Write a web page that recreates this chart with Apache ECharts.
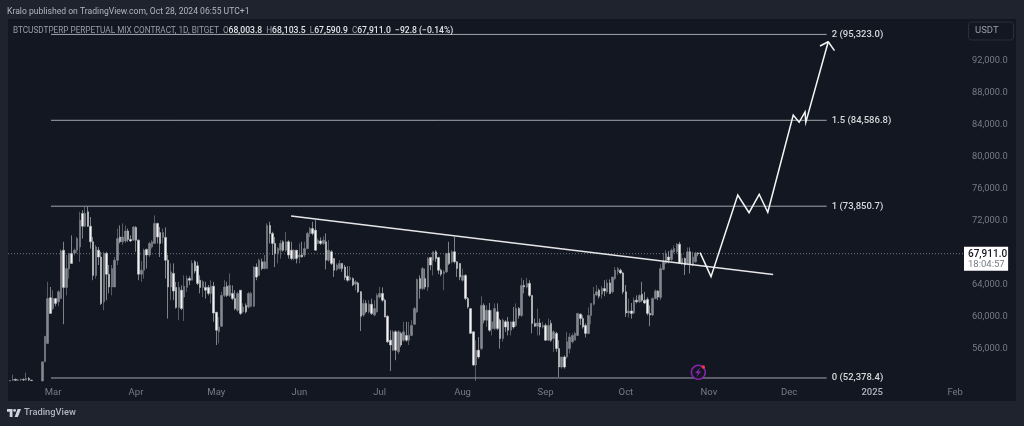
<!DOCTYPE html>
<html><head><meta charset="utf-8">
<style>html,body{margin:0;padding:0;background:#1f232e}#c{width:1024px;height:426px}</style>
<script src="https://cdn.jsdelivr.net/npm/echarts@6/dist/echarts.min.js"></script>
</head><body><div id="c"></div>
<script>
const firstCandleDay = '2024-02-14T00:00Z';
// daily candles in thousands of USDT: [open, close, low, high]; null = no candle that day
const candles = [
[52.0,52.05,52.0,52.1],[52.1,52.2,52.0,52.8],[52.2,52.1,52.0,52.3],[52.1,52.15,52.0,52.2],[52.15,52.2,52.0,52.3],[52.2,52.15,52.0,52.3],[52.15,52.3,52.0,53.05],[52.3,52.15,52.0,52.5],[52.1,52.05,52.0,52.15],
null,null,null,
[52.0,54.4,52.0,54.4],[54.4,57.6,54.4,57.6],[56.7,62.3,56.7,64.4],[62.4,60.45,60.45,63.75],[61.05,62.3,60.85,63.35],[62.3,61.7,61.35,62.3],[61.9,63.15,61.35,63.35],[62.3,68.25,62.3,68.45],[68.35,63.7,59.1,69.4],[63.7,66.05,62.7,67.75],
[66.0,67.95,64.8,67.95],[67.95,66.7,66.7,70.2],[68.0,68.35,67.7,68.55],[68.35,69.8,67.95,70.0],[68.75,72.1,66.9,73.15],[72.95,71.35,69.8,73.35],[71.35,72.95,71.25,73.8],[73.15,71.35,71.25,73.8],[71.35,69.4,68.55,72.5],[69.4,65.2,64.6,70.0],
[65.2,68.75,64.8,69.0],[68.35,67.5,66.5,68.75],[67.5,61.7,61.5,68.15],[61.9,67.95,60.85,68.15],[67.95,65.35,62.1,68.15],[65.35,63.75,62.95,66.5],[63.75,66.05,62.7,66.5],[63.75,67.1,63.75,67.5],[67.1,69.8,66.5,71.05],[70.0,69.4,69.2,71.45],
[69.4,70.0,69.0,71.7],[69.5,70.75,69.25,71.45],[70.75,69.7,69.4,71.05],[69.7,69.5,69.4,70.2],[69.6,71.25,69.6,71.35],[71.2,69.6,68.15,71.35],[69.6,65.35,64.6,69.7],[65.35,65.85,64.4,67.0],[65.85,68.35,64.8,68.55],[68.45,67.75,66.05,68.55],
[67.75,69.2,67.5,69.4],[68.75,69.4,68.55,69.6],[69.2,71.7,69.2,72.7],[71.7,70.0,69.2,71.8],[70.55,69.2,67.5,71.25],[69.95,70.55,69.2,71.05],[69.95,67.1,64.8,71.2],[67.1,63.75,59.8,67.75],[63.75,65.65,62.1,66.7],[65.45,63.25,62.1,66.7],
[63.7,61.2,61.05,64.4],[61.2,63.7,59.6,64.4],[63.35,61.05,60.85,63.95],[62.5,63.85,59.5,65.2],[63.7,64.8,63.15,65.2],[64.8,64.6,64.0,65.1],[64.6,66.7,64.6,67.1],[66.9,65.75,65.45,67.1],[66.4,64.2,64.0,66.9],[64.6,63.7,62.95,65.2],
[63.7,64.4,62.5,64.6],[63.7,63.35,62.3,64.4],[63.7,62.95,62.7,64.0],[62.95,63.85,61.7,64.6],[63.85,60.5,59.4,64.4],[60.6,58.35,56.5,60.6],[58.15,58.75,56.7,60.0],[58.85,62.7,58.75,63.15],[62.7,63.75,62.5,64.6],[63.85,62.7,62.5,64.4],
[62.7,63.95,62.5,65.45],[62.95,62.3,62.1,63.95],[62.3,61.05,60.85,63.35],[60.85,62.95,60.65,63.15],
[63.35,60.45,60.25,63.35],[60.65,61.25,60.45,61.7],[61.45,60.65,60.45,61.7],[61.25,62.95,61.05,63.15],[61.35,62.95,61.2,63.15],[61.35,66.25,61.25,66.35],[66.25,65.0,64.6,66.7],[65.2,67.1,65.2,67.3],[66.9,66.05,65.85,67.3],[66.05,66.9,65.95,67.75],
[66.05,71.45,66.05,71.7],[71.45,70.45,69.2,71.9],[70.45,69.2,67.75,70.65],[69.2,67.95,66.25,70.0],[67.95,68.55,66.7,68.75],[68.35,69.2,67.3,69.6],[69.4,68.35,68.15,69.6],[68.35,69.4,68.15,70.65],[69.4,67.75,67.3,69.6],[68.35,67.3,67.1,69.4],
[67.3,68.35,67.1,68.45],[68.35,67.3,66.7,68.35],[67.5,67.75,66.7,69.2],[67.75,67.5,67.45,69.4],[67.75,68.55,67.5,69.4],[68.55,70.45,68.45,70.65],[70.45,71.05,70.0,71.25],[71.05,70.45,70.2,71.9],[70.85,68.35,68.35,72.1],[69.2,69.6,69.1,69.8],
[69.5,69.2,69.0,69.95],[69.2,69.6,69.0,70.1],[69.4,67.1,65.95,70.45],[67.1,68.35,66.9,69.6],[68.15,66.7,66.5,68.35],[67.3,65.85,65.0,67.3],[65.95,66.5,65.75,66.7],[66.05,66.7,65.95,67.1],[66.7,66.05,65.65,66.7],[66.25,64.95,64.6,66.5],
[65.1,64.6,64.4,66.35],[64.7,64.95,64.5,66.35],[64.8,64.0,63.85,64.95],[64.1,64.4,63.35,64.6],[64.25,63.15,63.0,64.4],[63.15,60.1,58.25,63.25],[60.25,61.7,60.0,62.2],[61.7,60.65,60.45,62.1],[60.65,61.6,60.45,62.1],[61.6,60.45,60.25,62.3],
[60.25,61.05,60.1,62.1],[60.65,62.7,60.55,62.95],[62.5,62.95,62.3,63.75],[62.95,62.1,61.9,63.7],[62.1,60.0,59.95,62.3],[60.1,56.9,56.75,60.2],[57.1,56.5,53.25,58.35],[55.85,58.15,55.75,58.35],[58.15,55.85,54.6,58.35],[55.65,58.15,55.35,58.35],
[57.95,56.5,56.25,58.15],[57.1,58.15,56.9,59.4],[57.7,57.1,56.9,59.4],[57.1,57.7,56.5,59.4],[57.7,58.95,57.6,59.6],[59.1,61.05,59.0,61.25],[60.65,64.7,60.5,64.8],[64.8,63.55,62.3,65.2],[63.55,66.05,63.35,66.25],[64.8,63.75,63.45,66.05],
[63.75,67.3,63.25,67.5],[67.45,66.5,65.85,67.5],[67.1,68.15,65.2,68.15],[68.15,67.3,66.9,68.35],[67.45,65.85,65.35,67.5],[65.85,65.35,65.1,66.05],[65.45,65.65,63.35,65.85],[65.65,67.95,65.5,68.0],[68.0,66.7,66.5,69.4],[66.9,68.15,66.7,68.35],
[68.15,66.9,66.7,70.0],[66.9,66.05,65.0,67.0],[66.7,65.0,64.6,66.7],[64.6,65.2,64.4,66.05],[65.2,62.3,62.1,65.35],[62.3,61.25,61.05,62.5],[61.05,57.95,57.95,61.05],[58.15,54.0,53.85,58.15],[54.0,55.85,52.0,57.1],[55.85,55.0,54.8,57.5],
[56.05,61.45,55.85,62.6],[61.45,59.6,59.2,61.7],[59.6,60.85,58.75,61.45],[60.85,58.35,58.15,61.75],[58.55,59.4,57.7,60.85],[58.55,61.05,58.35,61.7],[60.65,58.55,58.35,61.7],[59.6,57.3,56.05,59.8],[57.3,59.6,56.9,59.8],[59.4,58.75,58.15,59.6],
[59.4,58.35,57.7,60.0],[58.35,59.4,57.7,59.4],[59.4,58.75,58.55,61.25],[58.95,61.05,58.75,61.7],[61.05,60.2,59.8,61.25],[60.2,63.95,60.0,64.9],[63.95,63.75,62.95,64.6],[63.75,64.2,63.55,64.9],[64.2,62.7,62.5,64.6],[62.7,59.2,57.95,62.7],
[59.2,58.85,58.75,59.8],[58.85,59.25,57.7,61.05],[59.25,58.75,57.7,59.8],[58.75,58.95,58.55,59.4],[58.95,57.1,57.0,59.2],[57.1,58.95,57.0,59.8],[59.2,57.1,56.9,59.6],[57.3,58.15,55.65,58.35],[57.95,56.05,55.65,58.15],[56.05,53.75,52.5,57.1],
[53.75,55.0,53.55,55.0],[55.0,53.75,53.55,55.2],[55.0,56.9,54.8,58.15],[56.05,57.5,55.45,57.95],[56.9,57.7,56.7,57.95],[57.1,57.95,57.1,58.15],[57.7,60.45,57.6,60.5],[60.35,59.8,59.0,60.45],[59.8,58.75,58.55,60.2],[58.95,57.95,57.45,59.2],
[57.95,60.2,57.85,61.2],[60.2,61.7,59.1,61.7],[61.6,62.85,61.45,63.75],[62.75,63.15,62.6,64.0],[63.35,62.6,62.3,63.55],[62.85,63.55,62.3,63.85],[63.55,63.25,62.6,64.6],[63.15,64.25,62.95,64.7],[64.25,62.95,62.85,64.7],[63.15,65.0,62.95,65.0],
[64.8,65.85,64.6,66.25],[65.65,66.05,65.25,66.25],[65.85,65.5,65.35,66.05],[65.5,63.15,62.85,65.65],[63.15,60.5,60.0,64.0],[60.5,60.75,59.95,62.3],[60.75,60.45,59.8,61.75],[60.5,62.1,60.35,62.45],[62.1,61.9,61.7,62.7],[61.9,62.7,61.75,62.85],
[62.85,62.1,61.9,64.4],[62.1,61.75,61.6,63.15],[62.2,60.45,60.2,62.45],[60.45,60.25,58.85,61.45],[60.25,62.3,60.1,62.45],[62.3,63.25,62.2,63.45],[63.25,62.5,62.1,63.35],[62.45,66.05,62.1,66.6],[65.95,66.9,65.85,68.0],[66.75,67.95,66.6,68.35],
[67.5,67.1,66.7,68.25],[67.2,68.35,67.0,68.55],[68.15,68.55,67.95,68.95],[68.15,69.1,67.95,69.25],[69.1,66.7,66.7,69.4],[66.7,67.3,66.5,67.95],[67.3,66.5,65.25,67.45],[66.7,68.15,66.5,68.7],[68.15,66.5,65.45,68.7],[66.5,67.5,66.35,68.15],
[66.9,68.0,66.75,68.15],[68.0038,67.911,67.5909,68.1035]
];
const fibLevels = [
  {label:'2 (95,323.0)', price:95323.0},
  {label:'1.5 (84,586.8)', price:84586.8},
  {label:'1 (73,850.7)', price:73850.7},
  {label:'0 (52,378.4)', price:52378.4}
];
const fibFrom = '2024-02-29T06:00Z', fibTo = '2024-12-15T00:00Z';
const trendDates = ['2024-05-28T22:00Z','2024-11-25T00:00Z'];
const trendValues = [72625, 65312];
const forecastDates = ['2024-10-28T17:00Z','2024-11-01T19:00Z','2024-11-11T19:00Z','2024-11-16T00:00Z','2024-11-19T19:00Z','2024-11-23T00:00Z','2024-12-02T12:00Z','2024-12-04T17:00Z','2024-12-06T22:00Z','2024-12-07T05:00Z','2024-12-15T14:00Z'];
const forecastValues = [68040,65040,75250,73040,75340,73090,85250,84340,85625,84340,94410];
const arrowDates = ['2024-12-12T12:00Z','2024-12-15T14:00Z','2024-12-17T22:00Z'];
const arrowValues = [93875,94410,93290];
const lastPrice = 67911.0;
const lastPriceText = '67,911.0', countdownText = '18:04:57';
const xTickDates = ['2024-03-01','2024-04-01','2024-05-01','2024-06-01','2024-07-01','2024-08-01','2024-09-01','2024-10-01','2024-11-01','2024-12-01','2025-01-01','2025-02-01'];
const xTickLabels = ['Mar','Apr','May','Jun','Jul','Aug','Sep','Oct','Nov','Dec','2025','Feb'];
const yTicks = [56000,60000,64000,72000,76000,80000,84000,88000,92000];
const axisMinTime = '2024-02-13T04:30Z', axisMaxTime = '2025-02-05T01:00Z';
const t = s => Date.parse(s.length === 10 ? s + 'T00:00Z' : s);
const FONT = 'Roboto, "Open Sans", sans-serif';
const DAY = 86400000;
const candleData = candles.map((c,i)=> c ? [t(firstCandleDay)+i*DAY, c[0]*1000, c[1]*1000, c[2]*1000, c[3]*1000] : null).filter(Boolean);
const lineBase = {type:'line', showSymbol:false, symbol:'none', silent:true, animation:false, clip:false};
const grey = '#787b86';
const xTickTimes = xTickDates.map(t);

const series = [
  {type:'candlestick', data:candleData, encode:{x:0,y:[1,2,3,4]}, barWidth:2, silent:true, animation:false,
   itemStyle:{color:'#85888f', color0:'#f4f4f4', borderColor:'#85888f', borderColor0:'#c8c9cd', borderWidth:0.6}, z:3},
  {...lineBase, data:[[t(axisMinTime),lastPrice],[t(axisMaxTime),lastPrice]], lineStyle:{color:grey,width:1,type:[1,2]}, z:2,
   endLabel:{show:true, distance:0, offset:[-2,5], formatter:()=>`{p|${lastPriceText}}\n{c|${countdownText}}`, backgroundColor:'#ffffff', padding:[2,1,1,4], align:'left',
     rich:{p:{color:'#131722',fontSize:10,fontWeight:500,fontFamily:FONT,lineHeight:11},c:{color:'#787b86',fontSize:9.5,fontFamily:FONT,lineHeight:10}}}},
  ...fibLevels.map(f=>({...lineBase, data:[[t(fibFrom),f.price],[t(fibTo),f.price]], lineStyle:{color:'#a3a5ab',width:1}, z:4,
    endLabel:{show:true, distance:5, formatter:()=>f.label, color:'#d8d9dc', fontSize:9.5, fontWeight:500, fontFamily:FONT}})),
  {...lineBase, data:trendDates.map((d,i)=>[t(d),trendValues[i]]), lineStyle:{color:'#e6e6e8',width:1.5}, z:5},
  {...lineBase, data:forecastDates.map((d,i)=>[t(d),forecastValues[i]]), lineStyle:{color:'#f5f5f5',width:1.5,join:'miter'}, z:6},
  {...lineBase, data:arrowDates.map((d,i)=>[t(d),arrowValues[i]]), lineStyle:{color:'#f5f5f5',width:1.5}, z:6}
];

const chart = echarts.init(document.getElementById('c'), null, {renderer:'canvas'});
chart.setOption({
  animation:false, useUTC:true, backgroundColor:'#1f232e',
  title:[
    {text:'Kralo published on TradingView.com, Oct 28, 2024 06:55 UTC+1', left:7, top:7, padding:0, textStyle:{color:'#b2b5be',fontSize:8.6,fontWeight:400,fontFamily:FONT}},
    {text:'{g|BTCUSDTPERP PERPETUAL MIX CONTRACT, 1D, BITGET  O}{w|68,003.8}{g|  H}{w|68,103.5}{g|  L}{w|67,590.9}{g|  C}{w|67,911.0}{w|  −92.8 (−0.14%)}', left:13, top:26, padding:0,
     textStyle:{fontSize:8.2,fontWeight:400,fontFamily:FONT,rich:{g:{color:'#9a9da6',fontSize:8.2,fontFamily:FONT},w:{color:'#e4e5e8',fontSize:8.6,fontWeight:500,fontFamily:FONT}}}}
  ],
  grid:{left:8, top:19, width:958, height:362, containLabel:false},
  xAxis:{type:'value', min:t(axisMinTime), max:t(axisMaxTime), axisLine:{show:false}, axisTick:{show:false}, splitLine:{show:false},
    axisLabel:{customValues:xTickTimes, margin:7, color:grey, fontSize:9.5, fontFamily:FONT, hideOverlap:false, showMinLabel:true, showMaxLabel:true,
      formatter:(v)=>{const s=xTickLabels[xTickTimes.indexOf(+v)]; return s==='2025'?`{b|${s}}`:s;},
      rich:{b:{color:'#b2b5be',fontSize:9.5,fontWeight:500,fontFamily:FONT}}}},
  yAxis:{type:'value', position:'right', min:52000, max:97250, interval:4000, axisLine:{show:false}, axisTick:{show:false}, splitLine:{show:false},
    axisLabel:{customValues:yTicks, margin:6, color:grey, fontSize:9.3, fontFamily:FONT, padding:[3,0,0,0], showMinLabel:true, showMaxLabel:true,
      formatter:v=>v.toLocaleString('en-US',{minimumFractionDigits:1})}},
  series,
  graphic:{elements:[
    {type:'rect', z:-10, shape:{x:8,y:19,width:1008,height:382}, style:{fill:'#131722'}, silent:true},
    {type:'rect', z:10, shape:{x:968.5,y:22,width:45,height:18,r:3}, style:{fill:'#131722',stroke:'#2a2e39',lineWidth:1}, silent:true},
    {type:'text', z:11, x:975, y:26, style:{text:'USDT',fill:'#9a9da6',fontSize:9.5,fontFamily:FONT}, silent:true},
    {type:'circle', z:20, shape:{cx:698.3,cy:372.3,r:7}, style:{fill:'#131722',stroke:'#8426a8',lineWidth:1.6}, silent:true},
    {type:'polygon', z:21, shape:{points:[[700,367.6],[695.2,373],[697.7,373],[696.4,377],[701.2,371.4],[698.6,371.4]]}, style:{fill:'#8426a8'}, silent:true},
    {type:'circle', z:22, shape:{cx:703.3,cy:367,r:1.8}, style:{fill:'#f23645'}, silent:true},
    {type:'polygon', z:20, shape:{points:[[7,409],[12.5,409],[12.5,417],[9.7,417],[9.7,411.8],[7,411.8]]}, style:{fill:'#d1d4dc'}, silent:true},
    {type:'polygon', z:20, shape:{points:[[17.6,409],[21,409],[17.9,417],[14.6,417]]}, style:{fill:'#d1d4dc'}, silent:true},
    {type:'circle', z:20, shape:{cx:14.6,cy:410.4,r:1.4}, style:{fill:'#d1d4dc'}, silent:true},
    {type:'text', z:20, x:24, y:408.5, style:{text:'TradingView',fill:'#b2b5be',fontSize:9.3,fontWeight:500,fontFamily:FONT}, silent:true}
  ]}
});
</script></body></html>
